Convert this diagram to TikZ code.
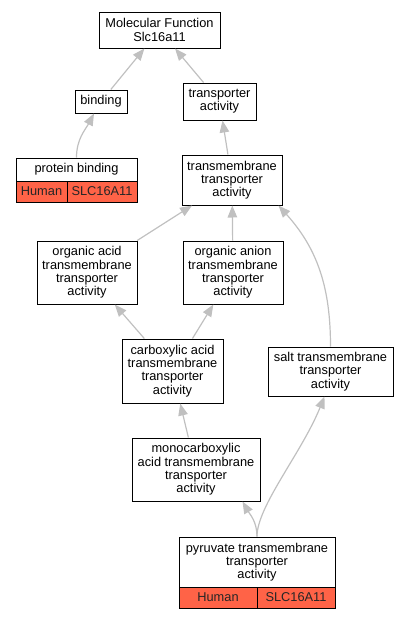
\documentclass[tikz,border=0pt]{standalone}
\usepackage{fontspec}
\setmainfont{Liberation Sans}
\usetikzlibrary{arrows.meta, calc, positioning}
\definecolor{edgegray}{RGB}{192,192,192}
\definecolor{tomatored}{RGB}{255,99,71}
\tikzset{
	term/.style={
		rectangle,
		draw=black, line width=1pt,
		fill=white,
		inner sep=0pt,
		align=center,
		font=\fontsize{12.8}{13.3}\selectfont,
		text=black
	},
	cell/.style={term, fill=tomatored, text=black!85},
	isa/.style={draw=edgegray, line width=1.2pt, -{Triangle[length=12pt,width=9.5pt]}}
}

\begin{document}
\begin{tikzpicture}[x=1pt,y=1pt]

	\useasboundingbox (0,0) rectangle (409,-619);

	%% go terms
	\node[term, minimum width=121pt, minimum height=36pt] (MF)	at (159.5,-30)	{Molecular Function\\Slc16a11};
	\node[term, minimum width=52pt,  minimum height=23pt] (binding)	at (101,-101.5)	{binding};
	\node[term, minimum width=73pt,  minimum height=37pt] (TA)	at (219.5,-101.5)	{transporter\\activity};
	\node[term, minimum width=121pt, minimum height=23pt] (pb)	at (76.5,-169.5)	{protein binding};
	\node[term, minimum width=100pt, minimum height=50pt] (TTA)	at (232,-180)	{transmembrane\\transporter\\activity};
	\node[term, minimum width=100pt, minimum height=63pt] (OA)	at (87,-272.5)	{organic acid\\transmembrane\\transporter\\activity};
	\node[term, minimum width=100pt, minimum height=63pt] (OAn)	at (233,-272.5)	{organic anion\\transmembrane\\transporter\\activity};
	\node[term, minimum width=101pt, minimum height=64pt] (carb)	at (172.5,-371)	{carboxylic acid\\transmembrane\\transporter\\activity};
	\node[term, minimum width=125pt, minimum height=49pt] (salt)	at (330.5,-371.5)	{salt transmembrane\\transporter\\activity};
	\node[term, minimum width=128pt, minimum height=63pt] (mono)	at (196,-469.5)	{monocarboxylic\\acid transmembrane\\transporter\\activity};
	\node[term, minimum width=156pt, minimum height=50pt] (pyr)	at (257,-562)	{pyruvate transmembrane\\transporter\\activity};

	%% annotation cells
	\node[cell, minimum width=51pt, minimum height=21pt] (pbhuman)	at (41.5,-191.5)	{Human};
	\node[cell, minimum width=70pt, minimum height=21pt] (pbgene)	at (102,-191.5)	{SLC16A11};
	\node[cell, minimum width=78pt, minimum height=21pt] (pyrhuman)	at (218,-597.5)	{Human};
	\node[cell, minimum width=78pt, minimum height=21pt] (pyrgene)	at (296,-597.5)	{SLC16A11};

	%% is_a edges
	\draw[isa] (binding) -- (MF);
	\draw[isa] (TA) -- (MF);
	\draw[isa] (pb.north) to[out=90,in=-118] ([xshift=-7pt]binding.south);
	\draw[isa] (TTA) -- (TA);
	\draw[isa] (OA) -- (TTA);
	\draw[isa] (OAn) -- (TTA);
	\draw[isa] (salt.north) to[out=90,in=-48] ([xshift=-4pt]TTA.south east);
	\draw[isa] (carb) -- (OA);
	\draw[isa] (carb) -- (OAn);
	\draw[isa] (mono) -- (carb);
	\draw[isa] (pyr.north) to[out=90,in=-60] ([xshift=-18pt]mono.south east);
	\draw[isa] (pyr.north) to[out=90,in=-112,out looseness=0.5] ([xshift=-6pt]salt.south);

\end{tikzpicture}
\end{document}
